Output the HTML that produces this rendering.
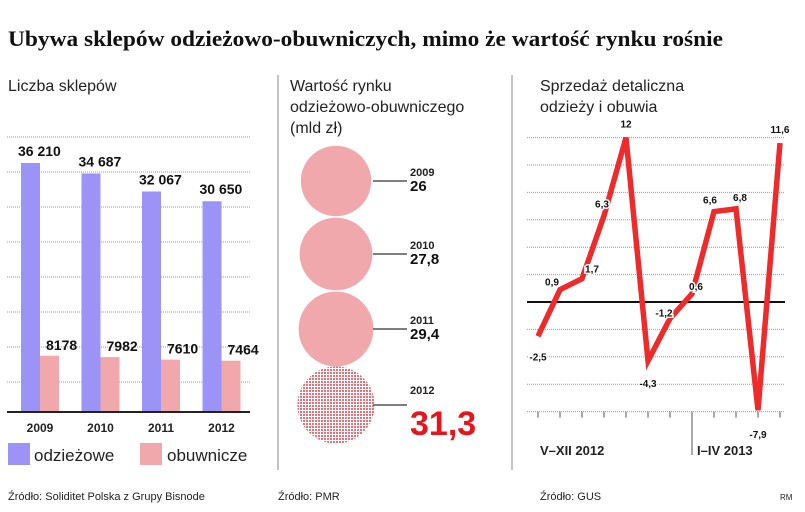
<!DOCTYPE html>
<html><head><meta charset="utf-8"><style>
body{margin:0;background:#fff;}
svg{display:block;font-family:"Liberation Sans",sans-serif;}
</style></head><body>
<svg width="805" height="512" viewBox="0 0 805 512">
<defs>
<pattern id="dots" width="3" height="3" patternUnits="userSpaceOnUse"><rect width="3" height="3" fill="#fff"/><rect width="2" height="2" fill="#e8707a"/></pattern>
</defs>
<text x="8" y="46" font-family="Liberation Serif" font-weight="bold" font-size="22" textLength="715" lengthAdjust="spacingAndGlyphs" fill="#111">Ubywa sklepów odzieżowo-obuwniczych, mimo że wartość rynku rośnie</text>
<line x1="278" y1="75" x2="278" y2="470" stroke="#888"/>
<line x1="512" y1="75" x2="512" y2="470" stroke="#888"/>
<text x="8" y="91" font-size="16" fill="#222">Liczba sklepów</text>
<text x="290" y="91" font-size="16" fill="#222">Wartość rynku</text>
<text x="290" y="112" font-size="16" fill="#222">odzieżowo-obuwniczego</text>
<text x="290" y="133" font-size="16" fill="#222">(mld zł)</text>
<text x="540" y="91" font-size="16" fill="#222">Sprzedaż detaliczna</text>
<text x="540" y="112" font-size="16" fill="#222">odzieży i obuwia</text>
<g id="bars"></g>
<g id="bubbles"></g>
<g id="line"></g>
<rect x="8" y="443" width="22" height="22" fill="#9b93f5"/>
<text x="34" y="461" font-size="17" fill="#222">odzieżowe</text>
<rect x="140" y="443" width="22" height="22" fill="#f0a8ac"/>
<text x="167" y="461" font-size="17" fill="#222">obuwnicze</text>
<text x="8" y="500" font-size="11" fill="#222">Źródło: Soliditet Polska z Grupy Bisnode</text>
<text x="278" y="500" font-size="11" fill="#222">Źródło: PMR</text>
<text x="540" y="500" font-size="11" fill="#222">Źródło: GUS</text>
<text x="780" y="500" font-size="8" fill="#222">RM</text>
</svg>
<script>
const NS="http://www.w3.org/2000/svg";
const barYears=["2009","2010","2011","2012"];
const odziezowe=[36210,34687,32067,30650];
const obuwnicze=[8178,7982,7610,7464];
const odzLabels=["36 210","34 687","32 067","30 650"];
const obuLabels=["8178","7982","7610","7464"];
const bubbleYears=["2009","2010","2011","2012"];
const bubbleValues=[26,27.8,29.4,31.3];
const bubbleLabels=["26","27,8","29,4","31,3"];
const salesValues=[-2.5,0.9,1.7,6.3,12,-4.3,-1.2,0.6,6.6,6.8,-7.9,11.6];
const salesLabels=["-2,5","0,9","1,7","6,3","12","-4,3","-1,2","0,6","6,6","6,8","-7,9","11,6"];

function mk(tag,attrs,parent,txt){const e=document.createElementNS(NS,tag);for(const k in attrs)e.setAttribute(k,attrs[k]);if(txt!==undefined)e.textContent=txt;parent.appendChild(e);return e;}

// bar chart
const bg=document.getElementById('bars');
const base=412, barScale=249/36210;
const by=v=>base-v*barScale;
for(let i=0;i<8;i++){const g=mk('line',{x1:7,x2:250,y1:137+i*35,y2:137+i*35,stroke:'#999','stroke-dasharray':'1 1'},bg);

}
barYears.forEach((y,i)=>{
 const x=21+i*60.5;
 const r1=mk('rect',{x:x,y:by(odziezowe[i]),width:19,height:base-by(odziezowe[i]),fill:'#9b93f5'},bg);
 
 
 const r2=mk('rect',{x:x+19,y:by(obuwnicze[i]),width:19,height:base-by(obuwnicze[i]),fill:'#f0a8ac'},bg);
 
 
 const t1=mk('text',{x:x-3,y:by(odziezowe[i])-7,'font-size':14,'font-weight':'bold',fill:'#111'},bg,odzLabels[i]);
 
 
 const t2=mk('text',{x:x+25,y:by(obuwnicze[i])-6,'font-size':14,'font-weight':'bold',fill:'#111'},bg,obuLabels[i]);
 
 
 const t3=mk('text',{x:x+19,y:432,'font-size':12,'font-weight':'bold','text-anchor':'middle',fill:'#222'},bg,y);
 
 
});
const ax=mk('line',{x1:7,x2:250,y1:base,y2:base,stroke:'#222','stroke-width':2},bg);



// bubbles
const bb=document.getElementById('bubbles');
const centers=[181,254,329,405];
bubbleValues.forEach((v,i)=>{
 const r=6.9*Math.sqrt(v);
 const c=mk('circle',{cx:336,cy:centers[i],r:r,fill:i===3?'url(#dots)':'#f0a8ac'},bb);
 
 
 const l=mk('line',{x1:373,x2:407,y1:centers[i],y2:centers[i],stroke:'#555','stroke-width':1.5},bb);
 
 
 const ty=mk('text',{x:410,y:centers[i]-(i===3?11:5),'font-size':11,'font-weight':'bold',fill:'#222'},bb,bubbleYears[i]);
 
 
 const tv=mk('text',i===3?{x:410,y:centers[i]+30,'font-size':34,'font-weight':'bold',fill:'#e8141c'}:{x:410,y:centers[i]+10,'font-size':15,'font-weight':'bold',fill:'#111'},bb,bubbleLabels[i]);
 
 
});

// line chart
const lg=document.getElementById('line');
const zeroY=302, unit=13.7;
const ly=v=>zeroY-v*unit;
const lx=i=>538+i*22;
for(let k=-8;k<=12;k+=2){if(k===0)continue;const g=mk('line',{x1:527,x2:785,y1:ly(k),y2:ly(k),stroke:'#999','stroke-dasharray':'1 1'},lg);

}
const z=mk('line',{x1:527,x2:785,y1:zeroY,y2:zeroY,stroke:'#111','stroke-width':2},lg);


salesValues.forEach((v,i)=>{const t=mk('line',{x1:lx(i),x2:lx(i),y1:ly(-8),y2:ly(-8)+6,stroke:'#555'},lg);

});
const dv=mk('line',{x1:692,x2:692,y1:ly(-8),y2:455,stroke:'#555'},lg);


const pl=mk('polyline',{points:salesValues.map((v,i)=>lx(i)+','+ly(v)).join(' '),fill:'none',stroke:'#ee2a2a','stroke-width':5.5,'stroke-linejoin':'miter'},lg);


const off=[[0,20],[-8,-8],[10,-10],[-2,-12],[0,-14],[0,22],[-6,-6],[4,-8],[-4,-12],[4,-12],[0,24],[0,-14]];
salesValues.forEach((v,i)=>{
 const t=mk('text',{x:lx(i)+off[i][0],y:ly(v)+off[i][1]+4,'font-size':10,'font-weight':'bold','text-anchor':'middle',fill:'#111',stroke:'#fff','stroke-width':3,'paint-order':'stroke'},lg,salesLabels[i]);
 
 
});
const p1=mk('text',{x:540,y:455,'font-size':13,'font-weight':'bold',fill:'#222'},lg,"V–XII 2012");


const p2=mk('text',{x:697,y:455,'font-size':13,'font-weight':'bold',fill:'#222'},lg,"I–IV 2013");


</script>
</body></html>
